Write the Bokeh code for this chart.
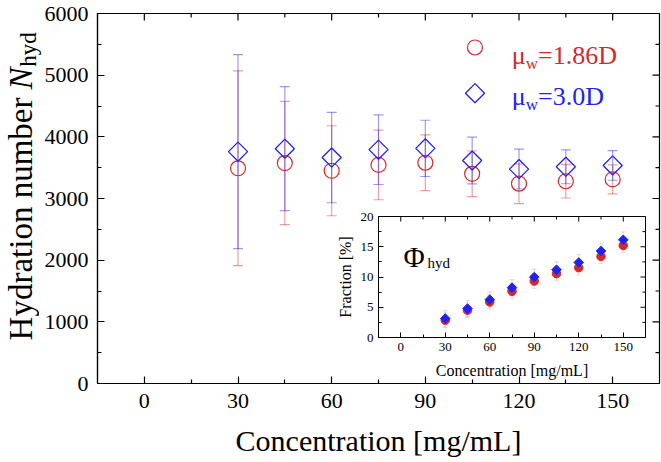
import numpy as np
from bokeh.plotting import figure
from bokeh.models import (ColumnDataSource, Whisker, TeeHead, FixedTicker,
                          Label, GridBox, Range1d)
from bokeh.embed import file_html
from bokeh.resources import INLINE

# ---------------- data ----------------
conc = [30, 45, 60, 75, 90, 105, 120, 135, 150]
nhyd_186 = [3490, 3575, 3450, 3545, 3580, 3400, 3240, 3280, 3310]
nhyd_186_err = [1580, 1000, 730, 565, 453, 370, 322, 272, 235]
nhyd_30 = [3760, 3808, 3664, 3792, 3813, 3616, 3477, 3514, 3536]
nhyd_30_err = [1573, 1005, 733, 565, 456, 378, 323, 275, 240]

frac_186 = [2.85, 4.5, 5.87, 7.63, 9.33, 10.55, 11.54, 13.4, 15.2]
frac_186_err = [1.2, 1.2, 1.2, 1.2, 1.2, 1.2, 1.2, 1.2, 1.2]
frac_30 = [3.13, 4.78, 6.26, 8.24, 9.99, 11.2, 12.4, 14.3, 16.15]
frac_30_err = [1.3, 1.3, 1.3, 1.3, 1.3, 1.3, 1.3, 1.3, 1.3]

x_ticks = [0, 30, 60, 90, 120, 150]
x_minor = [15, 45, 75, 105, 135]
y_ticks = [0, 1000, 2000, 3000, 4000, 5000, 6000]
y_minor = [500, 1500, 2500, 3500, 4500, 5500]
inset_y_ticks = [0, 5, 10, 15, 20]
inset_y_minor = [2.5, 7.5, 12.5, 17.5]

X_START, X_END = -15, 165
Y_END = 6000
IY_END = 20

FONT = "Liberation Serif"
RED = "#D42A2A"
BLUE = "#2222EE"

W, H = 661, 462
BT, BB = 13, 79          # shared top / bottom borders of every figure in the layout


def no_align(f):
    if "frame_align" in f.properties():
        f.frame_align = False


def style_axis(ax, ticker, size, tin, tmin, standoff, lw=1.2):
    ax.ticker = ticker
    ax.major_tick_in = tin
    ax.major_tick_out = 0
    ax.minor_tick_in = tmin
    ax.minor_tick_out = 0
    ax.axis_line_color = "black"
    ax.axis_line_width = lw
    ax.major_tick_line_color = "black"
    ax.minor_tick_line_color = "black"
    ax.major_tick_line_width = lw
    ax.minor_tick_line_width = lw
    ax.major_label_text_font = FONT
    ax.major_label_text_font_size = size
    ax.major_label_text_color = "black"
    ax.major_label_standoff = standoff
    ax.axis_label_text_color = "black"


def mirror_ticks(fig, xt, xm, yt, ym, x_end, y_end, major, minor, lw):
    # inward ticks on the top and right edges (half of each dash is clipped by the frame)
    fig.scatter(x=xt, y=[y_end] * len(xt), marker="dash", angle=np.pi / 2, size=2 * major,
                line_color="black", line_width=lw)
    fig.scatter(x=xm, y=[y_end] * len(xm), marker="dash", angle=np.pi / 2, size=2 * minor,
                line_color="black", line_width=lw)
    fig.scatter(x=[x_end] * len(yt), y=yt, marker="dash", size=2 * major,
                line_color="black", line_width=lw)
    fig.scatter(x=[x_end] * len(ym), y=ym, marker="dash", size=2 * minor,
                line_color="black", line_width=lw)


# ---------------- main figure ----------------
p = figure(width=W, height=H, output_backend="svg", toolbar_location=None, title_location=None,
           x_range=Range1d(X_START, X_END), y_range=Range1d(0, Y_END),
           min_border_left=97, min_border_right=2, min_border_top=BT, min_border_bottom=BB)
no_align(p)
p.xgrid.visible = False
p.ygrid.visible = False
p.outline_line_color = "black"
p.outline_line_width = 1.2
p.background_fill_color = "white"
p.border_fill_color = "white"

style_axis(p.xaxis[0], FixedTicker(ticks=x_ticks, minor_ticks=x_minor), "22px", 7, 4, 10)
style_axis(p.yaxis[0], FixedTicker(ticks=y_ticks, minor_ticks=y_minor), "22px", 7, 4, 9)
p.xaxis.axis_label = "Concentration [mg/mL]"
p.xaxis.axis_label_text_font = FONT
p.xaxis.axis_label_text_font_size = "30px"
p.xaxis.axis_label_text_font_style = "normal"
p.xaxis.axis_label_text_color = "black"
p.xaxis.axis_label_standoff = 13
mirror_ticks(p, x_ticks, x_minor, y_ticks, y_minor, X_END, Y_END, 7, 4, 1.2)

c = np.array(conc, dtype=float)
r = np.array(nhyd_186, dtype=float)
re = np.array(nhyd_186_err, dtype=float)
b = np.array(nhyd_30, dtype=float)
be = np.array(nhyd_30_err, dtype=float)

src_r = ColumnDataSource(dict(x=c, y=r, lo=r - re, hi=r + re))
src_b = ColumnDataSource(dict(x=c, y=b, lo=b - be, hi=b + be))

for src, col in ((src_r, RED), (src_b, BLUE)):
    w = Whisker(base="x", upper="hi", lower="lo", source=src,
                line_color=col, line_alpha=0.45, line_width=1.2,
                upper_head=TeeHead(size=10, line_color=col, line_alpha=0.45, line_width=1.2),
                lower_head=TeeHead(size=10, line_color=col, line_alpha=0.45, line_width=1.2))
    p.add_layout(w)

p.scatter("x", "y", source=src_r, marker="circle", size=15, fill_color=None,
          line_color=RED, line_width=1.2)
p.scatter("x", "y", source=src_b, marker="square", angle=np.pi / 4, size=13.5,
          fill_color=None, line_color=BLUE, line_width=1.3)

# legend (manual, to allow subscripts)
p.scatter(x=[105.9], y=[5449], marker="circle", size=15, fill_color=None,
          line_color=RED, line_width=1.2)
p.scatter(x=[105.9], y=[4708], marker="square", angle=np.pi / 4, size=13.5,
          fill_color=None, line_color=BLUE, line_width=1.3)
for yb, ys, txt, col in ((5319, 5194, "=1.86D", RED), (4650, 4530, "=3.0D", BLUE)):
    p.add_layout(Label(x=117.7, y=yb, text="μ", text_font=FONT, text_font_size="26px",
                       text_color=col, text_baseline="alphabetic"))
    p.add_layout(Label(x=122.2, y=ys, text="w", text_font=FONT, text_font_size="17px",
                       text_color=col, text_baseline="alphabetic"))
    p.add_layout(Label(x=126.1, y=yb, text=txt, text_font=FONT, text_font_size="26px",
                       text_color=col, text_baseline="alphabetic"))


# ---------------- y-axis title pieces (overlay strips using rotated axis labels) ----------------
def vlabel(text, size, style, right_edge, top, height):
    f = figure(width=right_edge + 4, height=height, output_backend="svg", toolbar_location=None,
               title_location=None,
               x_range=Range1d(0, 1), y_range=Range1d(0, 1), x_axis_type=None,
               min_border_left=right_edge, min_border_right=0, min_border_top=BT, min_border_bottom=BB)
    no_align(f)
    f.xgrid.visible = False
    f.ygrid.visible = False
    f.outline_line_color = None
    f.background_fill_color = None
    f.border_fill_color = None
    ax = f.yaxis[0]
    ax.ticker = FixedTicker(ticks=[])
    ax.axis_line_color = None
    ax.major_tick_line_color = None
    ax.minor_tick_line_color = None
    ax.major_label_standoff = 0
    ax.axis_label = text
    ax.axis_label_standoff = 0
    ax.axis_label_text_font = FONT
    ax.axis_label_text_font_size = size
    ax.axis_label_text_font_style = style
    ax.axis_label_text_color = "black"
    f.margin = (top, 0, 0, 0)
    return f


lab1 = vlabel("Hydration number", "33px", "normal", 34, 90, 323)
lab2 = vlabel("N", "33px", "italic", 34, 50, 122)
lab3 = vlabel("hyd", "23px", "normal", 40, 25, 114)

# ---------------- inset ----------------
IL, IR = 97, 2
IFW, IFH = 267, 121
ins = figure(width=IL + IFW + IR, height=BT + IFH + BB, output_backend="svg", toolbar_location=None,
             title_location=None,
             x_range=Range1d(X_START, X_END), y_range=Range1d(0, IY_END),
             min_border_left=IL, min_border_right=IR, min_border_top=BT, min_border_bottom=BB)
no_align(ins)
ins.xgrid.visible = False
ins.ygrid.visible = False
ins.outline_line_color = "black"
ins.outline_line_width = 1
ins.background_fill_color = "white"
ins.border_fill_color = None

style_axis(ins.xaxis[0], FixedTicker(ticks=x_ticks, minor_ticks=x_minor), "13px", 5, 3, 5, lw=1)
style_axis(ins.yaxis[0], FixedTicker(ticks=inset_y_ticks, minor_ticks=inset_y_minor), "13px", 5, 3, 5, lw=1)
ins.xaxis.axis_label = "Concentration [mg/mL]"
ins.yaxis.axis_label = "Fraction [%]"
for ax in (ins.xaxis[0], ins.yaxis[0]):
    ax.axis_label_text_font = FONT
    ax.axis_label_text_font_size = "16px"
    ax.axis_label_text_font_style = "normal"
    ax.axis_label_text_color = "black"
ins.xaxis.axis_label_standoff = 8
ins.yaxis.axis_label_standoff = 4
mirror_ticks(ins, x_ticks, x_minor, inset_y_ticks, inset_y_minor, X_END, IY_END, 5, 3, 1)

fr = np.array(frac_186)
fre = np.array(frac_186_err)
fb = np.array(frac_30)
fbe = np.array(frac_30_err)
isrc_r = ColumnDataSource(dict(x=c, y=fr, lo=fr - fre, hi=fr + fre))
isrc_b = ColumnDataSource(dict(x=c, y=fb, lo=fb - fbe, hi=fb + fbe))
for src, col in ((isrc_r, RED), (isrc_b, BLUE)):
    ins.add_layout(Whisker(base="x", upper="hi", lower="lo", source=src,
                           line_color=col, line_alpha=0.18, line_width=1,
                           upper_head=TeeHead(size=5, line_color=col, line_alpha=0.18),
                           lower_head=TeeHead(size=5, line_color=col, line_alpha=0.18)))
ins.scatter("x", "y", source=isrc_r, marker="circle", size=8.5, fill_color=RED, line_color=RED)
ins.scatter("x", "y", source=isrc_b, marker="square", angle=np.pi / 4, size=6.8,
            fill_color=BLUE, line_color=BLUE)

ins.add_layout(Label(x=25, y=81, x_units="screen", y_units="screen", text="Φ",
                     text_font=FONT, text_font_size="29px", text_color="black",
                     text_baseline="alphabetic"))
ins.add_layout(Label(x=49, y=75, x_units="screen", y_units="screen", text="hyd",
                     text_font=FONT, text_font_size="15px", text_color="black",
                     text_baseline="alphabetic"))

ins.margin = (216 - BT, 0, 0, 378 - IL)
p.margin = (0, 0, 0, 0)

layout = GridBox(children=[(p, 0, 0), (lab1, 0, 0), (lab2, 0, 0), (lab3, 0, 0), (ins, 0, 0)])

open("out.html", "w").write(file_html(layout, INLINE))
